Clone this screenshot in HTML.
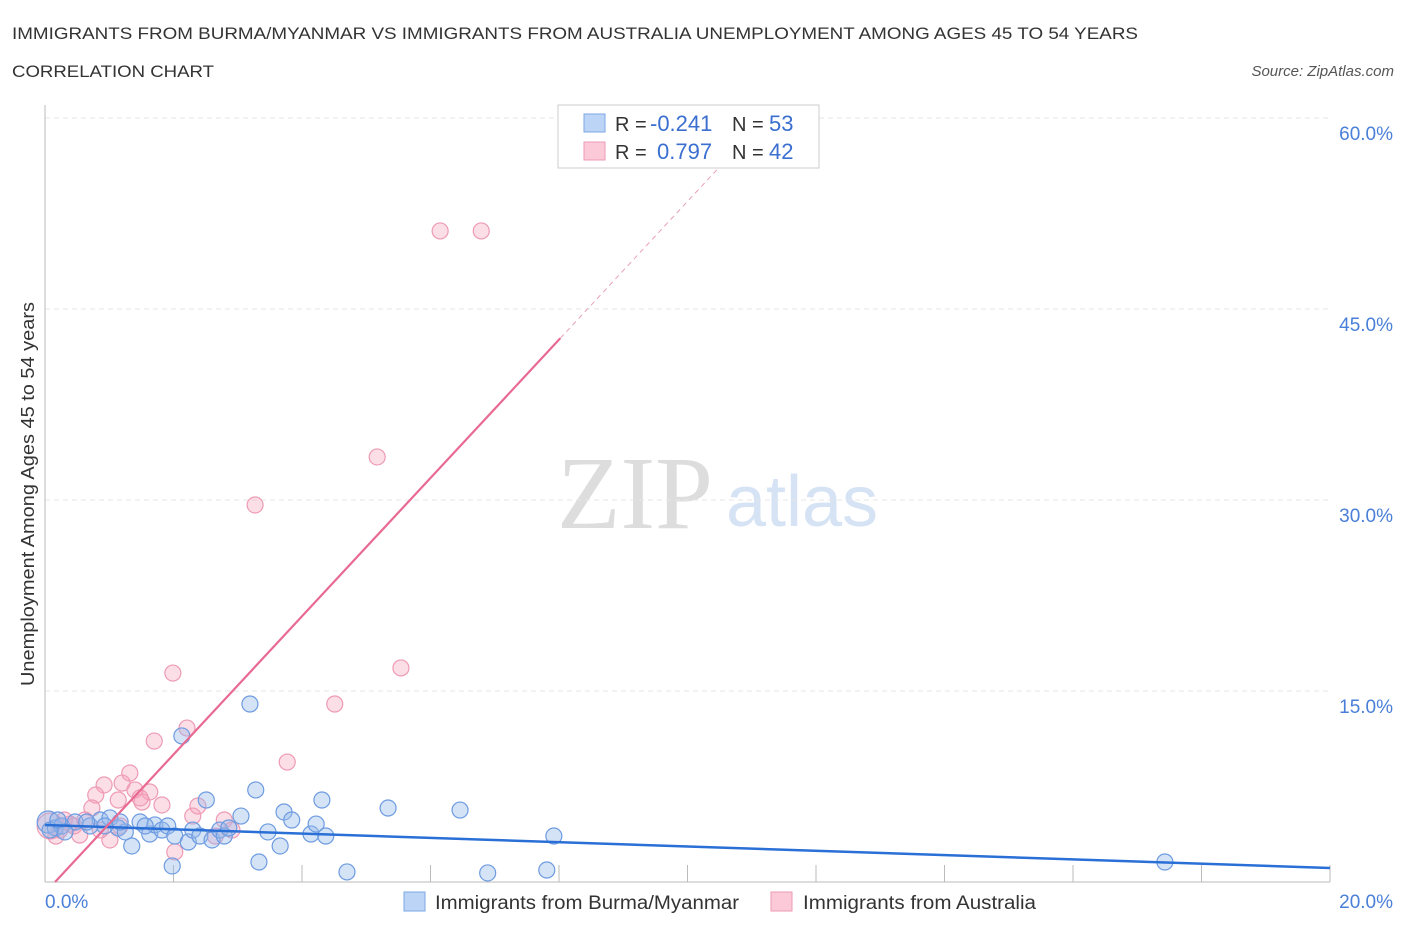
<!DOCTYPE html>
<html><head><meta charset="utf-8"><style>
body{margin:0;background:#fff;font-family:"Liberation Sans",sans-serif;}
svg text{font-family:"Liberation Sans",sans-serif;}
</style></head><body>
<svg width="1406" height="930">
<text x="12" y="39" font-size="17" fill="#333" textLength="1126" lengthAdjust="spacingAndGlyphs">IMMIGRANTS FROM BURMA/MYANMAR VS IMMIGRANTS FROM AUSTRALIA UNEMPLOYMENT AMONG AGES 45 TO 54 YEARS</text>
<text x="12" y="77" font-size="17" fill="#333" textLength="202" lengthAdjust="spacingAndGlyphs">CORRELATION CHART</text>
<text x="1394" y="76" font-size="15" fill="#555" font-style="italic" text-anchor="end">Source: ZipAtlas.com</text>
<text x="635" y="528" font-size="104" fill="#ddd" text-anchor="middle" style="font-family:'Liberation Serif',serif">ZIP</text>
<text x="802" y="526" font-size="72" fill="#d6e3f5" text-anchor="middle">atlas</text>
<g id="grid"></g>
<g id="axes"></g>
<g id="marks"></g>
<text transform="translate(34,494) rotate(-90)" font-size="18" fill="#333" text-anchor="middle" textLength="384" lengthAdjust="spacingAndGlyphs">Unemployment Among Ages 45 to 54 years</text>
<g>
<rect x="558" y="105" width="261" height="63" fill="#fff" stroke="#ccc"/>
<rect x="584" y="114" width="21" height="18" fill="#bcd4f6" stroke="#7ea6e6"/>
<rect x="584" y="142" width="21" height="18" fill="#fbc9d8" stroke="#ee9ab5"/>
<text x="615" y="131" font-size="20" fill="#333">R = <tspan x="650" fill="#3a6fd0" font-size="22">-0.241</tspan><tspan x="732">N = </tspan><tspan x="769" fill="#3a6fd0" font-size="22">53</tspan></text>
<text x="615" y="159" font-size="20" fill="#333">R = <tspan x="657" fill="#3a6fd0" font-size="22">0.797</tspan><tspan x="732">N = </tspan><tspan x="769" fill="#3a6fd0" font-size="22">42</tspan></text>
</g>
<g>
<rect x="404" y="892" width="21" height="19" fill="#bcd4f6" stroke="#7ea6e6"/>
<text x="435" y="909" font-size="19" fill="#333" textLength="304" lengthAdjust="spacingAndGlyphs">Immigrants from Burma/Myanmar</text>
<rect x="771" y="892" width="21" height="19" fill="#fbc9d8" stroke="#ee9ab5"/>
<text x="803" y="909" font-size="19" fill="#333" textLength="233" lengthAdjust="spacingAndGlyphs">Immigrants from Australia</text>
</g>
</svg>
<script>
const xTicks=[0,2,4,6,8,10,12,14,16,18,20];
const yTicks=[15,30,45,60];
const yTickLabels=["15.0%","30.0%","45.0%","60.0%"];
const burmaX=[0.05,0.16,0.26,0.47,0.70,0.86,1.01,1.14,1.25,1.35,1.48,1.63,1.71,1.82,1.91,2.02,2.13,2.23,2.30,2.41,2.51,2.60,2.72,2.79,2.86,3.05,3.19,3.28,3.33,3.47,3.66,3.72,3.84,4.14,4.22,4.31,4.37,4.70,5.34,6.46,6.89,7.81,7.92,17.43,1.98,0.65,0.31,0.93,1.56,0.08,0.20,1.17];
const burmaY=[4.71,4.24,4.40,4.71,4.40,4.87,5.03,4.24,3.93,2.83,4.71,3.77,4.48,4.08,4.40,3.61,11.47,3.14,4.08,3.61,6.44,3.30,4.08,3.61,4.24,5.18,13.98,7.23,1.57,3.93,2.83,5.50,4.87,3.77,4.55,6.44,3.61,0.79,5.81,5.65,0.71,0.94,3.61,1.57,1.26,4.71,3.93,4.40,4.40,4.08,4.87,4.71];
const ausX=[6.15,6.79,5.17,3.27,5.54,1.99,4.51,2.21,1.70,3.77,1.32,0.92,1.20,0.79,1.63,1.40,1.14,1.51,1.82,0.73,2.38,2.30,2.79,2.91,2.02,1.01,0.54,0.23,0.08,0.39,0.62,2.65,0.45,0.86,0.30,0.17,1.48,1.17];
const ausY=[51.13,51.13,33.38,29.61,16.81,16.41,13.98,12.09,11.07,9.42,8.56,7.62,7.77,6.83,7.07,7.23,6.44,6.28,6.05,5.81,5.97,5.18,4.87,4.08,2.36,3.30,3.69,4.08,4.40,4.55,4.87,3.61,4.40,4.08,4.87,3.61,6.60,4.40];
const burmaTrend=[4.48,1.10];
const ausTrend=[-0.85,5.43];
const NS="http://www.w3.org/2000/svg";
const X=v=>45+v/20*1285, Y=v=>882-v/15*191;
function mk(p,t,a){const e=document.createElementNS(NS,t);for(const k in a)e.setAttribute(k,a[k]);p.appendChild(e);return e;}
const grid=document.getElementById('grid'),axes=document.getElementById('axes'),marks=document.getElementById('marks');
yTicks.forEach((t,i)=>{
 const l=mk(grid,'line',{x1:45,x2:1330,y1:Y(t),y2:Y(t),stroke:'#e6e6e6','stroke-dasharray':'5,4'});
 
 
 const tx=mk(axes,'text',{x:1393,y:Y(t)+22,'font-size':19,fill:'#4a7fd8','text-anchor':'end'});tx.textContent=yTickLabels[i];
 
 
});
const ax=mk(axes,'line',{x1:45,x2:1330,y1:882,y2:882,stroke:'#bbb'});


const ay=mk(axes,'line',{x1:45,x2:45,y1:105,y2:882,stroke:'#bbb'});


xTicks.forEach(t=>{const l=mk(axes,'line',{x1:X(t),x2:X(t),y1:865,y2:882,stroke:'#bbb'});
 
 });
[[0,"0.0%","start",45],[20,"20.0%","end",1393]].forEach(d=>{const t=mk(axes,'text',{x:d[3],y:908,'font-size':19,fill:'#4a7fd8','text-anchor':d[2]});t.textContent=d[1];
 
 });
ausX.forEach((x,i)=>{const c=mk(marks,'circle',{cx:X(x),cy:Y(ausY[i]),r:i==28?13:8,fill:'rgba(246,160,185,0.35)',stroke:'#ee9ab5','stroke-width':1.2});
 
 });
burmaX.forEach((x,i)=>{const c=mk(marks,'circle',{cx:X(x),cy:Y(burmaY[i]),r:i==0?11:8,fill:'rgba(150,185,235,0.4)',stroke:'#6d9be0','stroke-width':1.2});
 
 });
const bt=mk(marks,'line',{x1:X(0),y1:Y(burmaTrend[0]),x2:X(20),y2:Y(burmaTrend[1]),stroke:'#2a6fd6','stroke-width':2.5});


const x0=-ausTrend[0]/ausTrend[1];
const at=mk(marks,'line',{x1:X(x0),y1:Y(0),x2:X(8.02),y2:Y(ausTrend[0]+ausTrend[1]*8.02),stroke:'#e86a93','stroke-width':2.2});


const ad=mk(marks,'line',{x1:X(8.02),y1:Y(ausTrend[0]+ausTrend[1]*8.02),x2:X(10.6),y2:Y(ausTrend[0]+ausTrend[1]*10.6),stroke:'#e8a0b8','stroke-width':1,'stroke-dasharray':'5,4'});


</script>
</body></html>
